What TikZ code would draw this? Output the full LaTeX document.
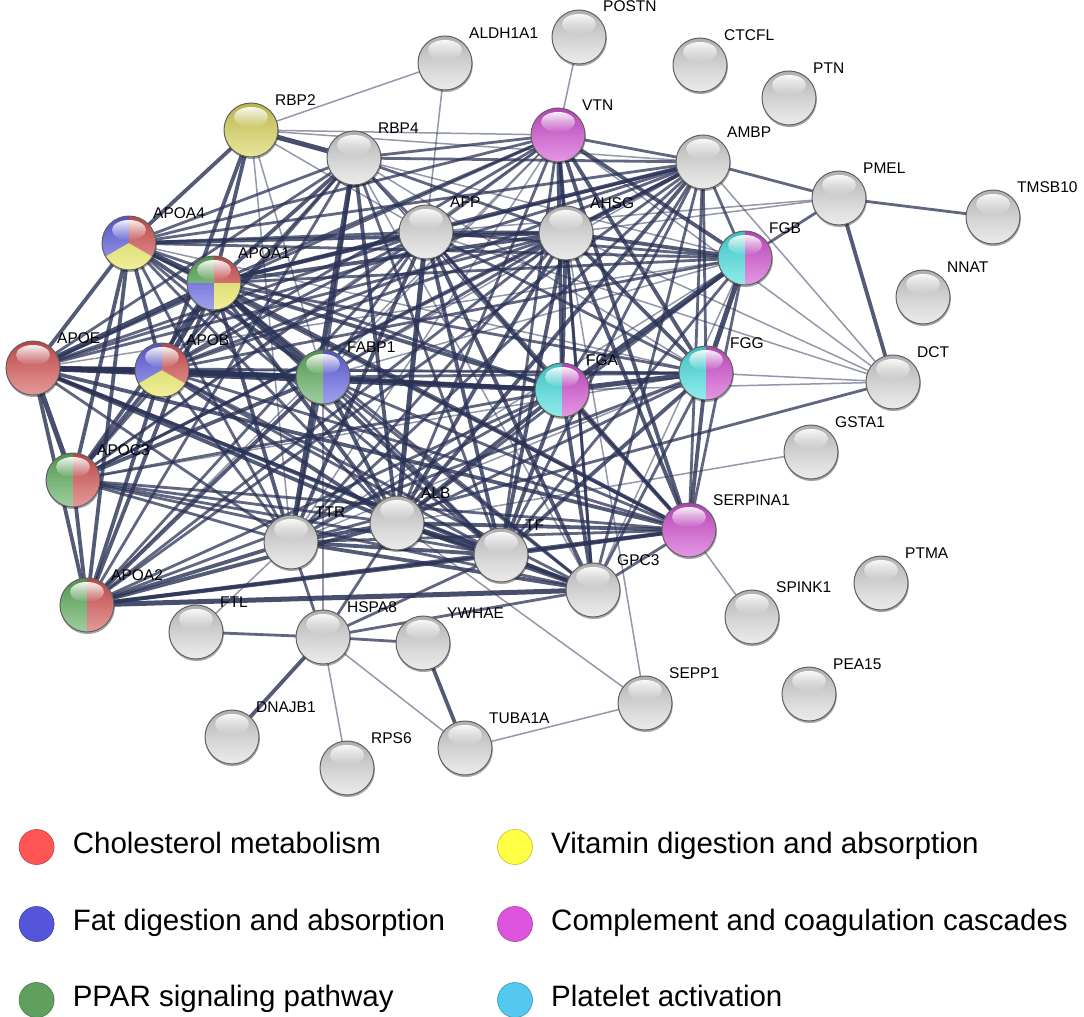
\documentclass[tikz,border=0pt]{standalone}
\usepackage{fontspec}
\setmainfont{Liberation Sans}
\usetikzlibrary{fadings}
\definecolor{nred}{RGB}{212,82,82}
\definecolor{nblue}{RGB}{96,96,226}
\definecolor{nyel}{RGB}{232,230,88}
\definecolor{nolive}{RGB}{214,210,88}
\definecolor{ngreen}{RGB}{92,172,92}
\definecolor{ncyan}{RGB}{70,222,222}
\definecolor{nmag}{RGB}{208,78,208}
\definecolor{ngray}{RGB}{204,204,204}
\definecolor{edgec}{RGB}{42,50,86}
\definecolor{lred}{RGB}{255,85,85}
\definecolor{lblue}{RGB}{85,85,220}
\definecolor{lgreen}{RGB}{95,160,95}
\definecolor{lyel}{RGB}{255,255,70}
\definecolor{lmag}{RGB}{220,85,220}
\definecolor{lcyan}{RGB}{85,200,240}
\tikzset{
  nd/.style={circle, minimum size=54pt, inner sep=0pt},
  lab/.style={anchor=base west, inner sep=0pt, font=\fontsize{15.5}{18}\selectfont},
  legtext/.style={anchor=base west, inner sep=0pt, font=\fontsize{29.5}{34}\selectfont},
  e1/.style={draw=edgec, line width=1.5pt, opacity=.5},
  e2/.style={draw=edgec, line width=2.8pt, opacity=.74},
  e3/.style={draw=edgec, line width=3.8pt, opacity=.8},
  e4/.style={draw=edgec, line width=5pt, opacity=.86},
}
\newcommand\ballstart[1]{%
  \fill[black, opacity=.35] ([shift={(0.6pt,-1.8pt)}]#1.center) circle (27.3pt);}
\newcommand\ballend[2]{%
  \fill[black, opacity=.14, path fading=south] (#1.center) circle (27pt);
  \fill[white, opacity=#2, path fading=north] (#1.center) circle (27pt);
  \fill[white, opacity=.92, path fading=south] ([yshift=13pt]#1.center) ellipse (17pt and 10pt);
  \draw[black!62, line width=1pt] (#1.center) circle (27pt);}
\newcommand\sect[4]{% node, color, from, to
  \fill[#2] (#1.center) -- ++(#3:27pt) arc[start angle=#3, end angle=#4, radius=27pt] -- cycle;}
\newcommand\ballgray[1]{\ballstart{#1}\fill[ngray] (#1.center) circle (27pt);\ballend{#1}{.62}}
\newcommand\ballone[2]{\ballstart{#1}\fill[#2] (#1.center) circle (27pt);\ballend{#1}{.42}}
\newcommand\balltwo[3]{\ballstart{#1}\sect{#1}{#2}{90}{270}\sect{#1}{#3}{-90}{90}\ballend{#1}{.42}}
\newcommand\ballthree[4]{\ballstart{#1}\sect{#1}{#2}{90}{210}\sect{#1}{#4}{210}{330}\sect{#1}{#3}{-30}{90}\ballend{#1}{.42}}
\newcommand\ballfour[5]{\ballstart{#1}\sect{#1}{#2}{90}{180}\sect{#1}{#3}{0}{90}\sect{#1}{#4}{180}{270}\sect{#1}{#5}{270}{360}\ballend{#1}{.42}}
\begin{document}
\begin{tikzpicture}[x=1pt, y=-1pt]
\useasboundingbox (0,0) rectangle (1084,1017);
\fill[white] (0,0) rectangle (1084,1017);
\def\nodelist{RBP2/251/130, ALDH1A1/445/63, POSTN/579/37, CTCFL/700/65, PTN/789/98,
  VTN/558/135, RBP4/354/158, AMBP/703/162, PMEL/839/198, TMSB10/993/217, APOA4/129/243,
  AFP/426/232, AHSG/566/233, FGB/745/258, APOA1/214/283, NNAT/923/297, APOE/33/368,
  APOB/162/370, FABP1/323/377, FGA/562/390, FGG/706/373, DCT/893/382, GSTA1/811/452,
  APOC3/73/480, SERPINA1/689/530, TTR/291/542, ALB/397/523, TF/501/555, GPC3/593/590,
  PTMA/881/583, SPINK1/752/617, APOA2/87/605, FTL/196/632, HSPA8/323/637, YWHAE/423/643,
  SEPP1/645/703, PEA15/809/694, DNAJB1/232/737, TUBA1A/465/748, RPS6/347/768}
% nodes (positions)
\foreach \n/\x/\y in \nodelist { \node[nd] (\n) at (\x,\y) {}; }
% edges
\foreach \a/\b in {RBP2/ALDH1A1, RBP2/FABP1, RBP2/AMBP, RBP2/VTN, RBP2/AFP, RBP2/TTR, ALDH1A1/AFP, POSTN/VTN,
  VTN/APOC3, VTN/APOA2, VTN/TTR, VTN/FABP1, RBP4/SERPINA1, RBP4/GPC3, RBP4/FGA, RBP4/FGB, RBP4/FGG,
  AMBP/FABP1, AMBP/DCT, AFP/PMEL, AFP/DCT, AHSG/PMEL, AHSG/DCT, AHSG/SEPP1, FGB/APOE, FGB/FABP1,
  FGB/TTR, FGB/GPC3, FGG/APOA4, FGG/APOB, FGG/APOC3, FGG/TTR, FGG/DCT, FGA/DCT, HSPA8/FABP1,
  HSPA8/TUBA1A, HSPA8/RPS6, FTL/TTR, TUBA1A/SEPP1, ALB/SEPP1, ALB/GSTA1, SERPINA1/SPINK1, VTN/DCT}
  \draw[e1] (\a) -- (\b);
\foreach \a/\b in {RBP4/APOA4, RBP4/APOE, RBP4/APOB, RBP4/APOC3, RBP4/APOA2, RBP4/AFP, RBP4/AHSG,
  RBP4/VTN, RBP4/AMBP, RBP4/TF, RBP4/FABP1, AFP/APOA4, AFP/APOE, AFP/APOB, AFP/APOC3, AFP/APOA2,
  AFP/VTN, AFP/AMBP, AFP/FABP1, AFP/SERPINA1, AFP/FGA, AFP/FGB, AFP/FGG, AHSG/APOE, AHSG/APOB,
  AHSG/APOC3, AHSG/APOA2, AHSG/TTR, AHSG/FABP1, AHSG/GPC3, VTN/APOA4, VTN/APOA1, VTN/APOE, VTN/APOB,
  VTN/ALB, VTN/TF, VTN/AMBP, VTN/GPC3, AMBP/APOA4, AMBP/APOE, AMBP/APOB, AMBP/APOC3, AMBP/APOA2,
  AMBP/TTR, AMBP/TF, AMBP/SERPINA1, AMBP/GPC3, AMBP/FGA, AMBP/FGB, AMBP/FGG, AMBP/PMEL, FGB/APOA4,
  FGB/APOA1, FGB/APOB, FGB/ALB, FGB/TF, FGB/SERPINA1, FGG/APOA1, FGG/APOE, FGG/APOA2, FGG/ALB,
  FGG/FABP1, FGG/GPC3, FGA/APOA4, FGA/APOC3, FGA/APOA2, FGA/TTR, FABP1/TTR, FABP1/TF, FABP1/GPC3,
  FABP1/SERPINA1, TTR/APOA4, TTR/APOE, TTR/APOB, TTR/APOC3, TTR/SERPINA1, TTR/HSPA8, TTR/DCT,
  ALB/APOA4, ALB/APOC3, ALB/HSPA8, TF/APOA4, TF/APOB, TF/APOC3, TF/HSPA8, GPC3/APOA1, GPC3/APOE,
  GPC3/APOB, GPC3/APOC3, GPC3/SERPINA1, GPC3/HSPA8, SERPINA1/APOA4, SERPINA1/APOB, SERPINA1/APOC3,
  PMEL/TMSB10, PMEL/FGB, HSPA8/FTL, HSPA8/YWHAE}
  \draw[e2] (\a) -- (\b);
\foreach \a/\b in {APOA4/APOE, APOA4/APOB, APOA4/APOC3, APOA4/APOA2, APOA1/APOC3, APOA1/APOA2,
  APOE/APOA2, APOB/APOC3, APOB/APOA2, APOC3/APOA2, RBP2/APOA4, RBP2/APOA1, RBP2/APOB, RBP4/APOA1,
  RBP4/ALB, AFP/APOA1, AFP/TTR, AFP/TF, AFP/AHSG, AFP/GPC3, AHSG/APOA4, AHSG/APOA1, AHSG/ALB, AHSG/TF,
  AHSG/VTN, AHSG/AMBP, AHSG/SERPINA1, AHSG/FGA, AHSG/FGB, AHSG/FGG, VTN/SERPINA1, VTN/FGA, VTN/FGB,
  VTN/FGG, AMBP/APOA1, AMBP/ALB, FGG/TF, FGG/SERPINA1, FGA/APOA1, FGA/APOB, FGA/FABP1, FGA/ALB,
  FGA/TF, FGA/SERPINA1, FGA/GPC3, FABP1/APOA4, FABP1/APOB, FABP1/APOC3, FABP1/APOA2, FABP1/ALB,
  TTR/APOA1, TTR/APOA2, TTR/ALB, TTR/TF, TTR/GPC3, ALB/APOA1, ALB/APOE, ALB/APOB, ALB/APOA2,
  ALB/GPC3, ALB/SERPINA1, TF/APOA1, TF/APOE, TF/APOA2, TF/GPC3, TF/SERPINA1, SERPINA1/APOA1,
  SERPINA1/APOE, SERPINA1/APOA2, PMEL/DCT, YWHAE/TUBA1A, HSPA8/DNAJB1}
  \draw[e3] (\a) -- (\b);
\foreach \a/\b in {APOA4/APOA1, APOA1/APOE, APOA1/APOB, APOE/APOB, APOE/APOC3, RBP2/RBP4, RBP4/TTR,
  AFP/ALB, FGB/FGA, FGB/FGG, FGA/FGG, FGA/APOE, FABP1/APOA1, FABP1/APOE, ALB/TF, APOA2/GPC3}
  \draw[e4] (\a) -- (\b);
% balls
\foreach \n in {ALDH1A1, POSTN, CTCFL, PTN, RBP4, AMBP, PMEL, TMSB10, AFP, AHSG, NNAT, DCT, GSTA1,
  TTR, ALB, TF, GPC3, PTMA, SPINK1, FTL, HSPA8, YWHAE, SEPP1, PEA15, DNAJB1, TUBA1A, RPS6}
  {\ballgray{\n}}
\ballone{RBP2}{nolive}
\ballone{VTN}{nmag}
\ballone{SERPINA1}{nmag}
\ballone{APOE}{nred}
\ballthree{APOA4}{nblue}{nred}{nyel}
\ballthree{APOB}{nblue}{nred}{nyel}
\ballfour{APOA1}{ngreen}{nred}{nblue}{nyel}
\balltwo{FABP1}{ngreen}{nblue}
\balltwo{APOC3}{ngreen}{nred}
\balltwo{APOA2}{ngreen}{nred}
\balltwo{FGB}{ncyan}{nmag}
\balltwo{FGA}{ncyan}{nmag}
\balltwo{FGG}{ncyan}{nmag}
% labels
\foreach \n/\x/\y in \nodelist { \node[lab] at (\x+24,\y-25) {\n}; }
% legend
\foreach \c/\x/\y/\t in {lred/36.6/847/Cholesterol metabolism, lblue/36.6/924/Fat digestion and absorption,
  lgreen/36.6/1000/PPAR signaling pathway, lyel/515/847/Vitamin digestion and absorption,
  lmag/515/924/Complement and coagulation cascades, lcyan/515/1000/Platelet activation}{
  \node[circle, minimum size=35pt, inner sep=0pt, fill=\c, draw=\c!75!black, line width=.6pt] (L\c) at (\x,\y) {};
  \node[legtext] (T\c) at (\x+36,\y+6) {\t};
}
\end{tikzpicture}
\end{document}
